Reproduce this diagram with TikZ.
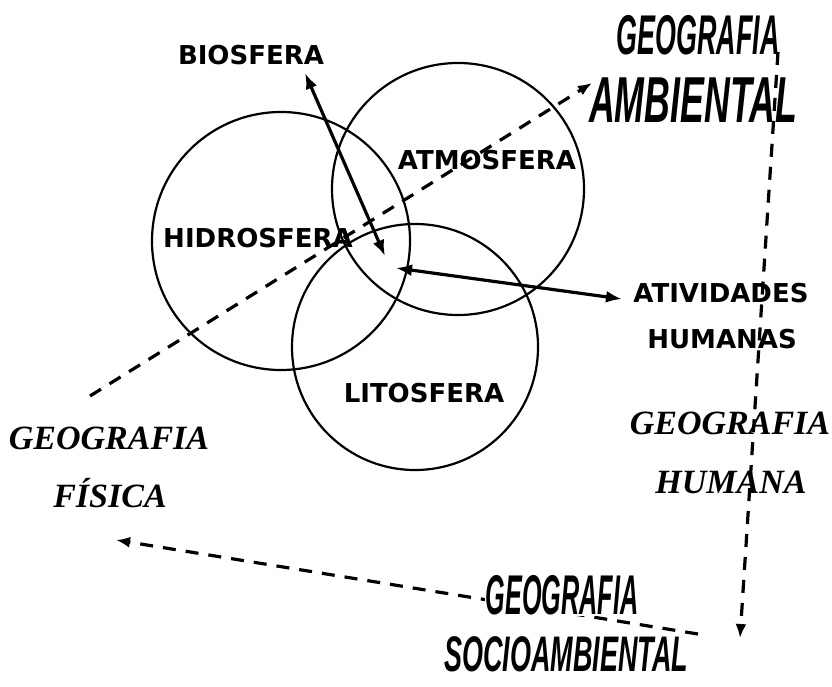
\documentclass[tikz,border=0pt]{standalone}
\usepackage{fontspec}
\usetikzlibrary{arrows.meta}
\newfontfamily\dvsans{DejaVu Sans}
\newfontfamily\lsserif{Liberation Serif}
\newfontfamily\lssans{Liberation Sans}
\newcommand\brushtxt[3]{\fontsize{#1}{#1}\selectfont\scalebox{#2}[1]{#3}}
\begin{document}
\begin{tikzpicture}[x=1pt,y=-1pt,
  sphere/.style={circle, draw, line width=2.2pt, inner sep=0pt},
  lbl/.style={font=\dvsans\bfseries\fontsize{26}{30}\selectfont, inner sep=0pt},
  scr/.style={font=\lsserif\bfseries\itshape\fontsize{34}{40}\selectfont, inner sep=0pt},
  brush/.style={font=\lssans\bfseries\itshape, inner sep=0pt},
  link/.style={line width=3.2pt, {Latex[length=16pt,width=12pt]}-{Latex[length=16pt,width=12pt]}},
  dlink/.style={line width=3.2pt, dash pattern=on 13pt off 10pt, -{Latex[length=14pt,width=11pt]}}]
\useasboundingbox[fill=white] (0,0) rectangle (832,687);

% spheres
\node[sphere, minimum size=258pt] (hid) at (281,241) {};
\node[sphere, minimum size=252pt] (atm) at (458,189) {};
\node[sphere, minimum size=246pt] (lit) at (415,347) {};

% connector end points
\coordinate (bioTip) at (305,73);
\coordinate (core) at (385,256);
\coordinate (coreB) at (396,268);
\coordinate (humTip) at (622,299);
\coordinate (fisStart) at (90,396);
\coordinate (ambTip) at (592,83);
\coordinate (ambStart) at (778,52);
\coordinate (socTip) at (740,638);
\coordinate (socStart) at (698,634);
\coordinate (fisTip) at (116,540);

% connectors
\draw[link] (bioTip) -- (core);
\draw[link] (coreB) -- (humTip);
\draw[dlink] (fisStart) -- (ambTip);
\draw[dlink] (ambStart) -- (socTip);
\draw[dlink] (socStart) -- (fisTip);

% labels
\node[lbl] (bio) at (251,55) {BIOSFERA};
\node[lbl] (atmL) at (487,160) {ATMOSFERA};
\node[lbl] (hidL) at (258,238) {HIDROSFERA};
\node[lbl] (litL) at (424,393) {LITOSFERA};
\node[lbl] (ativ) at (721,293) {ATIVIDADES};
\node[lbl] (huma) at (722,339) {HUMANAS};

\node[scr] (gh1) at (730,423) {GEOGRAFIA};
\node[scr] (gh2) at (731,482) {HUMANA};
\node[scr] (gf1) at (109,438) {GEOGRAFIA};
\node[scr] (gf2) at (110,493) {FÍSICA};

\node[brush] (ga1) at (698,35) {\brushtxt{56}{0.48}{GEOGRAFIA}};
\node[brush] (ga2) at (693,100) {\brushtxt{65}{0.55}{AMBIENTAL}};
\node[brush, fill=white, inner sep=1pt] (gs1) at (562,595) {\brushtxt{56}{0.45}{GEOGRAFIA}};
\node[brush] (gs2) at (566,654) {\brushtxt{50}{0.54}{SOCIOAMBIENTAL}};
\end{tikzpicture}
\end{document}
